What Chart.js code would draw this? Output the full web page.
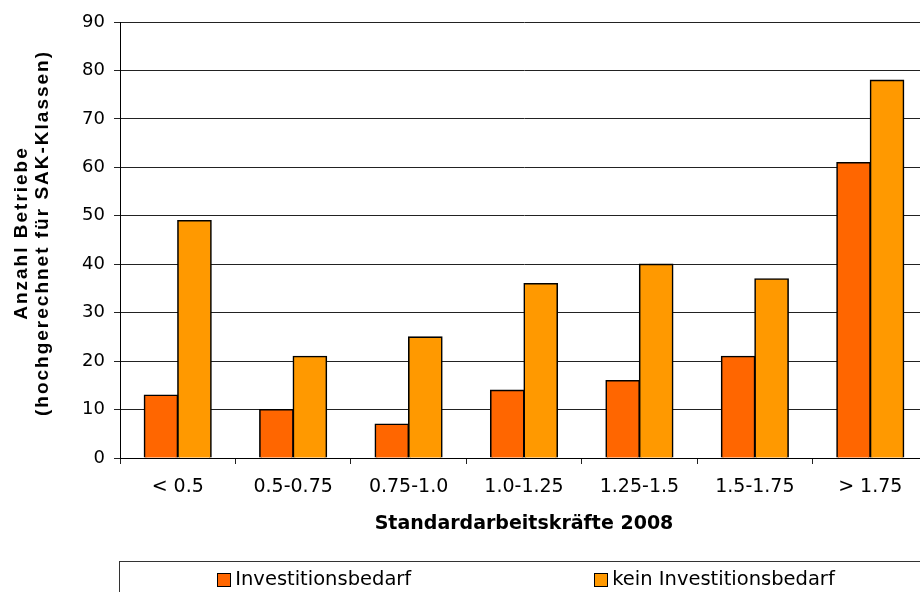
<!DOCTYPE html>
<html>
<head>
<meta charset="utf-8">
<script src="https://cdn.jsdelivr.net/npm/chart.js@4.4.1/dist/chart.umd.min.js"></script>
<style>
    html, body { margin: 0; padding: 0; background: #fff; overflow: hidden; }
    #wrap { position: relative; width: 930px; height: 600px; }
</style>
</head>
<body>
<div id="wrap"><canvas id="sak-chart" width="930" height="600"></canvas></div>
<script>
(function () {
    const sakClasses = ["< 0.5", "0.5-0.75", "0.75-1.0", "1.0-1.25", "1.25-1.5", "1.5-1.75", "> 1.75"];
    const investitionsbedarf = [13, 10, 7, 14, 16, 21, 61];
    const keinInvestitionsbedarf = [49, 21, 25, 36, 40, 37, 78];
    const yTickValues = [0, 10, 20, 30, 40, 50, 60, 70, 80, 90];
    const seriesLabels = ["Investitionsbedarf", "kein Investitionsbedarf"];
    const seriesColors = ["#ff6600", "#ff9900"];
    const yTitleLines = ["Anzahl Betriebe", "(hochgerechnet für SAK-Klassen)"];
    const xTitle = "Standardarbeitskräfte 2008";

    const baseFont = "DejaVu Sans";
    const lineColor = "#222";

    // rotated two-line axis title, drawn by hand so it can be letter-spaced
    const yTitlePlugin = {
        id: "yTitle",
        afterDraw(chart) {
            const ctx = chart.ctx;
            const area = chart.chartArea;
            const centerY = (area.top + area.bottom) / 2 - 7;
            const baselines = [27, 48];
            ctx.save();
            ctx.fillStyle = "#000";
            ctx.font = "bold 19px 'Liberation Sans', Arial, sans-serif";
            if ("letterSpacing" in ctx) {
                ctx.letterSpacing = "2px";
            }
            ctx.textAlign = "center";
            ctx.textBaseline = "alphabetic";
            yTitleLines.forEach((line, i) => {
                ctx.save();
                ctx.translate(baselines[i], centerY);
                ctx.rotate(-Math.PI / 2);
                ctx.fillText(line, 0, 0);
                ctx.restore();
            });
            ctx.restore();
        },
    };

    // framed legend below the axis title
    const legendBoxPlugin = {
        id: "legendBox",
        afterDraw(chart) {
            const ctx = chart.ctx;
            const area = chart.chartArea;
            const boxTop = 561.5;
            const boxLeft = area.left - 0.5;
            const marker = 13;
            const gap = 183;

            ctx.save();
            ctx.strokeStyle = "#333";
            ctx.lineWidth = 1;
            ctx.strokeRect(boxLeft, boxTop, chart.width + 10, 100);

            ctx.font = "19.5px '" + baseFont + "'";
            ctx.textBaseline = "middle";
            ctx.textAlign = "left";

            const items = chart.data.datasets.map((ds) => ({
                label: ds.label,
                color: ds.backgroundColor,
                width: marker + 5 + ctx.measureText(ds.label).width,
            }));
            const total = items.reduce((acc, it) => acc + it.width, 0) + gap * (items.length - 1);
            let x = (area.left + area.right) / 2 + 2 - total / 2;
            const midY = 579;

            items.forEach((it) => {
                const mx = Math.round(x) + 0.5;
                const my = Math.round(midY - marker / 2) + 0.5;
                ctx.fillStyle = it.color;
                ctx.fillRect(mx, my, marker, marker);
                ctx.strokeStyle = "#000";
                ctx.strokeRect(mx, my, marker, marker);
                ctx.fillStyle = "#000";
                ctx.fillText(it.label, x + marker + 5, midY + 1);
                x += it.width + gap;
            });
            ctx.restore();
        },
    };

    const datasets = [investitionsbedarf, keinInvestitionsbedarf].map((values, i) => ({
        label: seriesLabels[i],
        data: values,
        backgroundColor: seriesColors[i],
        borderColor: "#000",
        borderWidth: 1.6,
        borderSkipped: "bottom",
        inflateAmount: 0.6,
        categoryPercentage: 0.58,
        barPercentage: 1.0,
    }));

    new Chart(document.getElementById("sak-chart").getContext("2d"), {
        type: "bar",
        data: {
            labels: sakClasses,
            datasets: datasets,
        },
        plugins: [yTitlePlugin, legendBoxPlugin],
        options: {
            responsive: false,
            animation: false,
            layout: {
                padding: { top: 22, right: 2, bottom: 57, left: 0 },
            },
            plugins: {
                legend: { display: false },
                title: { display: false },
                tooltip: { enabled: false },
            },
            scales: {
                x: {
                    afterFit(scale) {
                        scale.height = 85;
                    },
                    grid: {
                        display: true,
                        drawOnChartArea: false,
                        drawTicks: true,
                        tickLength: 6,
                        color: lineColor,
                        offset: true,
                    },
                    border: { display: true, color: "#000", width: 1 },
                    ticks: {
                        color: "#000",
                        padding: 12,
                        maxRotation: 0,
                        autoSkip: false,
                        font: { family: baseFont, size: 19 },
                    },
                    title: {
                        display: true,
                        text: xTitle,
                        color: "#000",
                        padding: { top: 0, bottom: 8 },
                        font: { family: baseFont, size: 19, weight: "bold" },
                    },
                },
                y: {
                    min: yTickValues[0],
                    max: yTickValues[yTickValues.length - 1],
                    afterFit(scale) {
                        scale.width = 120;
                    },
                    afterBuildTicks(scale) {
                        scale.ticks = yTickValues.map((v) => ({ value: v }));
                    },
                    grid: {
                        color: lineColor,
                        lineWidth: 1,
                        drawTicks: true,
                        tickLength: 6,
                    },
                    border: { display: true, color: "#000", width: 1 },
                    ticks: {
                        color: "#000",
                        padding: 9,
                        font: { family: baseFont, size: 18 },
                    },
                },
            },
        },
    });
})();
</script>
</body>
</html>
